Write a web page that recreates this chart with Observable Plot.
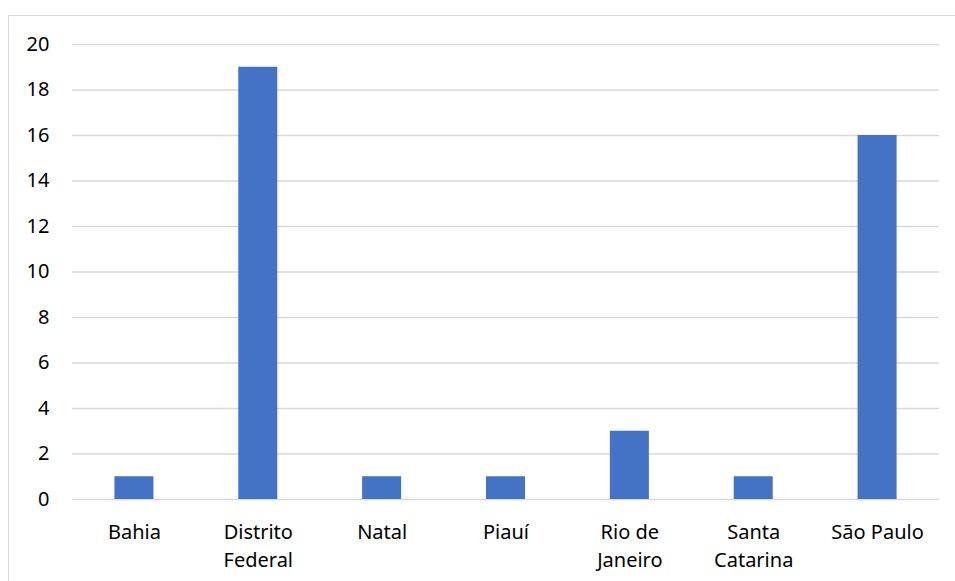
<!DOCTYPE html>
<html>
<head>
<meta charset="utf-8">
<script src="https://cdn.jsdelivr.net/npm/d3@7"></script>
<script src="https://cdn.jsdelivr.net/npm/@observablehq/plot@0.6"></script>
<style>
  html, body { margin: 0; padding: 0; background: #fff; overflow: hidden; }
  #frame {
    position: absolute; left: 8px; top: 15px; width: 960px; height: 580px;
    border: 1px solid #d9d9d9; box-sizing: border-box;
  }
  #chart { position: absolute; left: 0; top: 0; }
</style>
</head>
<body>
<div id="frame"></div>
<div id="chart"></div>
<script>
// Participants by state
const states = ["Bahia", "Distrito Federal", "Natal", "Piauí", "Rio de Janeiro", "Santa Catarina", "São Paulo"];
const counts = [1, 19, 1, 1, 3, 1, 16];
const stateLabels = ["Bahia", "Distrito\nFederal", "Natal", "Piauí", "Rio de\nJaneiro", "Santa\nCatarina", "São Paulo"];
const yTicks = [0, 2, 4, 6, 8, 10, 12, 14, 16, 18, 20];

const rows = states.map((s, i) => ({state: s, count: counts[i]}));
const labelOf = new Map(states.map((s, i) => [s, stateLabels[i]]));

const chart = Plot.plot({
  width: 955,
  height: 581,
  marginLeft: 72,
  marginRight: 16,
  marginTop: 44,
  marginBottom: 82,
  style: {fontFamily: "'Noto Sans', sans-serif", fontSize: "20px", color: "#000", background: "transparent"},
  x: {domain: states, paddingInner: 0.685, paddingOuter: 0.3425, round: false},
  y: {domain: [0, 20]},
  marks: [
    Plot.gridY(yTicks, {stroke: "#d9d9d9", strokeOpacity: 1, strokeWidth: 1.3}),
    Plot.barY(rows, {x: "state", y: "count", fill: "#4472c4"}),
    Plot.axisY(yTicks, {tickSize: 0, tickPadding: 23, label: null, fill: "#000"}),
    Plot.axisX({tickSize: 0, tickPadding: 19, label: null, lineHeight: 1.42, fill: "#000",
      tickFormat: (d) => labelOf.get(d)})
  ]
});
document.getElementById("chart").appendChild(chart);
</script>
</body>
</html>
